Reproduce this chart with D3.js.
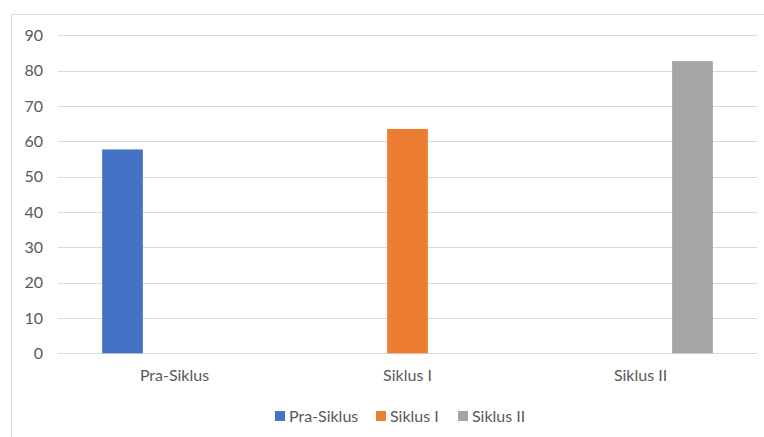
<!DOCTYPE html>
<html>
<head>
<meta charset="utf-8">
<script src="https://cdn.jsdelivr.net/npm/d3@7"></script>
<style>
  body { margin: 0; background: #fff; }
  svg { display: block; font-family: Lato, "Open Sans", sans-serif; }
</style>
</head>
<body>
<svg width="764" height="437"></svg>
<script>
// chart data
const categories = ['Pra-Siklus', 'Siklus I', 'Siklus II'];
const seriesNames = ['Pra-Siklus', 'Siklus I', 'Siklus II'];
const seriesColors = ['#4472C4', '#ED7D31', '#A5A5A5'];
// one series per category, other cells are empty
const praSiklus = [57.7, 0, 0];
const siklusI = [0, 63.5, 0];
const siklusII = [0, 0, 82.7];
const yTicks = [0, 10, 20, 30, 40, 50, 60, 70, 80, 90];

const seriesValues = [praSiklus, siklusI, siklusII];

const svg = d3.select('svg');

// outer chart border (Excel chart area)
svg.append('rect')
    .attr('x', 11.5).attr('y', 14.5)
    .attr('width', 800).attr('height', 500)
    .attr('fill', 'none')
    .attr('stroke', '#D9D9D9');

const plot = {left: 58, right: 757, top: 35.3, bottom: 353.3};

const y = d3.scaleLinear().domain([0, 90]).range([plot.bottom, plot.top]);
const x0 = d3.scaleBand().domain(categories).range([plot.left, plot.right]);
const half = 72.35;
const x1 = d3.scaleBand().domain(seriesNames)
    .range([x0.bandwidth() / 2 - half, x0.bandwidth() / 2 + half])
    .paddingInner(0.217);

// gridlines
svg.append('g').selectAll('line')
    .data(yTicks).enter()
    .append('line')
    .attr('x1', plot.left).attr('x2', plot.right)
    .attr('y1', d => Math.round(y(d)) + 0.5)
    .attr('y2', d => Math.round(y(d)) + 0.5)
    .attr('stroke', '#D9D9D9')
    .attr('stroke-width', 1);

// y axis labels
const yAxis = d3.axisLeft(y).tickValues(yTicks).tickSize(0).tickPadding(0);
const yg = svg.append('g').attr('transform', 'translate(43,0)').call(yAxis);
yg.select('.domain').remove();
yg.selectAll('text')
    .attr('fill', '#595959')
    .style('font-size', '16px')
    .style('font-family', 'Lato, sans-serif');

// bars
const rows = [];
categories.forEach((c, i) => {
    seriesNames.forEach((s, j) => {
        if (seriesValues[j][i] > 0) rows.push({cat: c, ser: s, val: seriesValues[j][i], color: seriesColors[j]});
    });
});

svg.append('g').selectAll('rect')
    .data(rows).enter()
    .append('rect')
    .attr('x', d => x0(d.cat) + x1(d.ser))
    .attr('y', d => y(d.val))
    .attr('width', x1.bandwidth())
    .attr('height', d => y(0) - y(d.val))
    .attr('fill', d => d.color);

// x axis category labels
const xAxis = d3.axisBottom(x0).tickSize(0).tickPadding(0);
const xg = svg.append('g').attr('transform', 'translate(0,' + (plot.bottom + 16) + ')').call(xAxis);
xg.select('.domain').remove();
xg.selectAll('text')
    .attr('fill', '#595959')
    .style('font-size', '16px')
    .style('font-family', 'Lato, sans-serif');

// legend
const legendX = [275, 376, 458];
const legend = svg.append('g').selectAll('g')
    .data(seriesNames).enter()
    .append('g')
    .attr('transform', (d, i) => 'translate(' + legendX[i] + ',411)');
legend.append('rect')
    .attr('width', 10).attr('height', 10)
    .attr('fill', (d, i) => seriesColors[i]);
legend.append('text')
    .attr('x', 14).attr('y', 5)
    .attr('dy', '0.35em')
    .attr('fill', '#595959')
    .style('font-size', '16px')
    .text(d => d);
</script>
</body>
</html>
